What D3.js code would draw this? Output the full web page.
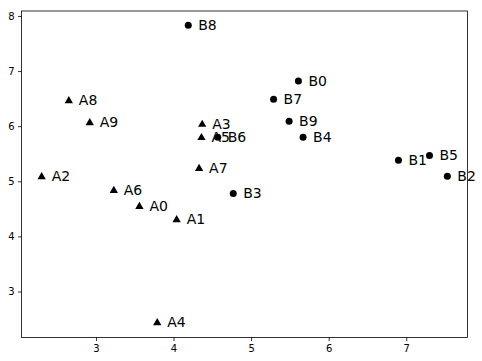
<!DOCTYPE html>
<html><head><meta charset="utf-8">
<script src="https://cdn.jsdelivr.net/npm/d3@7"></script>
<style>body{margin:0;background:#fff}svg{display:block}text{font-family:"DejaVu Sans",sans-serif}</style>
</head><body><svg id="c" width="482" height="361"></svg>
<script>
const aLabels = ["A0","A1","A2","A3","A4","A5","A6","A7","A8","A9"];
const aX = [3.56,4.04,2.30,4.37,3.79,4.36,3.23,4.33,2.65,2.92];
const aY = [4.55,4.31,5.09,6.04,2.44,5.80,4.84,5.24,6.47,6.07];
const bLabels = ["B0","B1","B2","B3","B4","B5","B6","B7","B8","B9"];
const bX = [5.61,6.90,7.53,4.77,5.67,7.30,4.57,5.29,4.19,5.49];
const bY = [6.82,5.38,5.09,4.78,5.80,5.47,5.80,6.49,7.83,6.09];
const xTicks = [3,4,5,6,7];
const yTicks = [3,4,5,6,7,8];

const svg = d3.select("#c");
const L=21.5,R=467.5,T=11,B=337.5;
const x = d3.scaleLinear().domain([2.04,7.79]).range([L,R]);
const y = d3.scaleLinear().domain([2.165,8.09]).range([B,T]);

const xa = svg.append("g").attr("transform",`translate(0,${B})`)
  .call(d3.axisBottom(x).tickValues(xTicks).tickFormat(d3.format("d")).tickSizeOuter(0).tickSize(3.5).tickPadding(3.5));
const ya = svg.append("g").attr("transform",`translate(${L},0)`)
  .call(d3.axisLeft(y).tickValues(yTicks).tickFormat(d3.format("d")).tickSizeOuter(0).tickSize(3.5).tickPadding(3.5));
[xa,ya].forEach(g=>{g.select(".domain").remove();
  g.selectAll("text").attr("font-size",10).attr("fill","#000").style("font-family","DejaVu Sans");
  g.selectAll("line").attr("stroke","#000").attr("stroke-width",0.8);});

svg.append("rect").attr("x",L).attr("y",T).attr("width",R-L).attr("height",B-T)
  .attr("fill","none").attr("stroke","#000").attr("stroke-width",0.8);

const tri = d3.symbol().type(d3.symbolTriangle).size(30);
const aData = aLabels.map((l,i)=>({l,x:aX[i],y:aY[i]}));
const bData = bLabels.map((l,i)=>({l,x:bX[i],y:bY[i]}));
svg.append("g").selectAll("path").data(aData).join("path")
  .attr("d",tri).attr("transform",d=>`translate(${x(d.x)},${y(d.y)+0.5})`).attr("fill","#000");
svg.append("g").selectAll("circle").data(bData).join("circle")
  .attr("cx",d=>x(d.x)).attr("cy",d=>y(d.y)).attr("r",3.5).attr("fill","#000");
svg.append("g").selectAll("text").data(aData.concat(bData)).join("text")
  .attr("x",d=>x(d.x)+10).attr("y",d=>y(d.y)+5).attr("font-size",14).attr("fill","#000").text(d=>d.l);
</script></body></html>
